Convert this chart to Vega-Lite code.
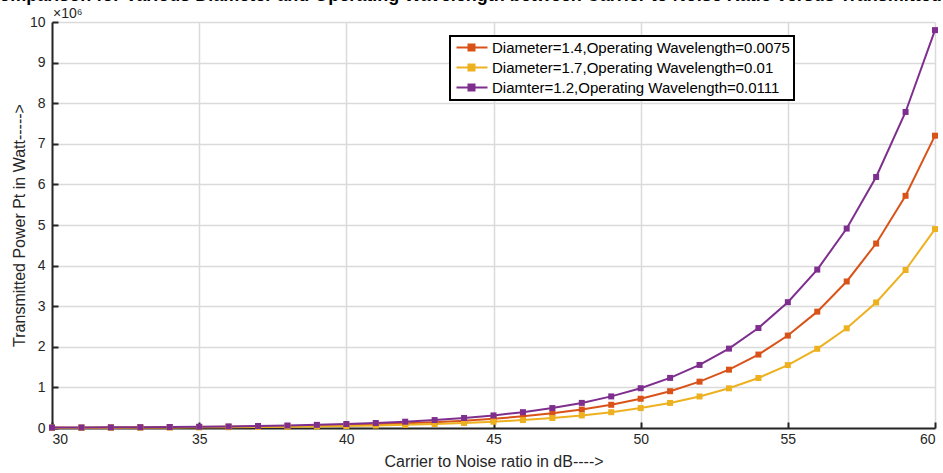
{
  "$schema": "https://vega.github.io/schema/vega-lite/v6.json",
  "autosize": "none",
  "width": 883,
  "height": 406,
  "padding": {"left": 52, "top": 22, "right": 8, "bottom": 45},
  "background": "white",
  "title": {
    "text": "Comparison for Various Diameter and Operating Wavelength between Carrier to Noise Ratio versus Transmitted Power",
    "font": "Liberation Sans",
    "fontSize": 18,
    "fontWeight": "bold",
    "color": "#000000",
    "anchor": "middle",
    "baseline": "alphabetic",
    "offset": -12,
    "limit": 0
  },
  "config": {
    "font": "Liberation Sans",
    "view": {"stroke": null},
    "axis": {
      "labelFont": "Liberation Sans",
      "titleFont": "Liberation Sans",
      "labelFontSize": 14,
      "titleFontSize": 16,
      "labelColor": "#262626",
      "titleColor": "#262626",
      "titleFontWeight": "normal",
      "domainColor": "#262626",
      "domainWidth": 2,
      "tickColor": "#262626",
      "tickWidth": 2,
      "tickSize": -6,
      "gridColor": "#dadada",
      "gridWidth": 1.5
    }
  },
  "layer": [
    {
      "data": {
        "values": [
          {"cnr": 30, "pt": 0.0072, "s": "Diameter=1.4,Operating Wavelength=0.0075"},
          {"cnr": 31, "pt": 0.009064, "s": "Diameter=1.4,Operating Wavelength=0.0075"},
          {"cnr": 32, "pt": 0.01141, "s": "Diameter=1.4,Operating Wavelength=0.0075"},
          {"cnr": 33, "pt": 0.01437, "s": "Diameter=1.4,Operating Wavelength=0.0075"},
          {"cnr": 34, "pt": 0.01809, "s": "Diameter=1.4,Operating Wavelength=0.0075"},
          {"cnr": 35, "pt": 0.02277, "s": "Diameter=1.4,Operating Wavelength=0.0075"},
          {"cnr": 36, "pt": 0.02866, "s": "Diameter=1.4,Operating Wavelength=0.0075"},
          {"cnr": 37, "pt": 0.03609, "s": "Diameter=1.4,Operating Wavelength=0.0075"},
          {"cnr": 38, "pt": 0.04543, "s": "Diameter=1.4,Operating Wavelength=0.0075"},
          {"cnr": 39, "pt": 0.05719, "s": "Diameter=1.4,Operating Wavelength=0.0075"},
          {"cnr": 40, "pt": 0.072, "s": "Diameter=1.4,Operating Wavelength=0.0075"},
          {"cnr": 41, "pt": 0.09064, "s": "Diameter=1.4,Operating Wavelength=0.0075"},
          {"cnr": 42, "pt": 0.1141, "s": "Diameter=1.4,Operating Wavelength=0.0075"},
          {"cnr": 43, "pt": 0.1437, "s": "Diameter=1.4,Operating Wavelength=0.0075"},
          {"cnr": 44, "pt": 0.1809, "s": "Diameter=1.4,Operating Wavelength=0.0075"},
          {"cnr": 45, "pt": 0.2277, "s": "Diameter=1.4,Operating Wavelength=0.0075"},
          {"cnr": 46, "pt": 0.2866, "s": "Diameter=1.4,Operating Wavelength=0.0075"},
          {"cnr": 47, "pt": 0.3609, "s": "Diameter=1.4,Operating Wavelength=0.0075"},
          {"cnr": 48, "pt": 0.4543, "s": "Diameter=1.4,Operating Wavelength=0.0075"},
          {"cnr": 49, "pt": 0.5719, "s": "Diameter=1.4,Operating Wavelength=0.0075"},
          {"cnr": 50, "pt": 0.72, "s": "Diameter=1.4,Operating Wavelength=0.0075"},
          {"cnr": 51, "pt": 0.9064, "s": "Diameter=1.4,Operating Wavelength=0.0075"},
          {"cnr": 52, "pt": 1.141, "s": "Diameter=1.4,Operating Wavelength=0.0075"},
          {"cnr": 53, "pt": 1.437, "s": "Diameter=1.4,Operating Wavelength=0.0075"},
          {"cnr": 54, "pt": 1.809, "s": "Diameter=1.4,Operating Wavelength=0.0075"},
          {"cnr": 55, "pt": 2.277, "s": "Diameter=1.4,Operating Wavelength=0.0075"},
          {"cnr": 56, "pt": 2.866, "s": "Diameter=1.4,Operating Wavelength=0.0075"},
          {"cnr": 57, "pt": 3.609, "s": "Diameter=1.4,Operating Wavelength=0.0075"},
          {"cnr": 58, "pt": 4.543, "s": "Diameter=1.4,Operating Wavelength=0.0075"},
          {"cnr": 59, "pt": 5.719, "s": "Diameter=1.4,Operating Wavelength=0.0075"},
          {"cnr": 60, "pt": 7.2, "s": "Diameter=1.4,Operating Wavelength=0.0075"},
          {"cnr": 30, "pt": 0.0049, "s": "Diameter=1.7,Operating Wavelength=0.01"},
          {"cnr": 31, "pt": 0.006169, "s": "Diameter=1.7,Operating Wavelength=0.01"},
          {"cnr": 32, "pt": 0.007766, "s": "Diameter=1.7,Operating Wavelength=0.01"},
          {"cnr": 33, "pt": 0.009777, "s": "Diameter=1.7,Operating Wavelength=0.01"},
          {"cnr": 34, "pt": 0.01231, "s": "Diameter=1.7,Operating Wavelength=0.01"},
          {"cnr": 35, "pt": 0.0155, "s": "Diameter=1.7,Operating Wavelength=0.01"},
          {"cnr": 36, "pt": 0.01951, "s": "Diameter=1.7,Operating Wavelength=0.01"},
          {"cnr": 37, "pt": 0.02456, "s": "Diameter=1.7,Operating Wavelength=0.01"},
          {"cnr": 38, "pt": 0.03092, "s": "Diameter=1.7,Operating Wavelength=0.01"},
          {"cnr": 39, "pt": 0.03892, "s": "Diameter=1.7,Operating Wavelength=0.01"},
          {"cnr": 40, "pt": 0.049, "s": "Diameter=1.7,Operating Wavelength=0.01"},
          {"cnr": 41, "pt": 0.06169, "s": "Diameter=1.7,Operating Wavelength=0.01"},
          {"cnr": 42, "pt": 0.07766, "s": "Diameter=1.7,Operating Wavelength=0.01"},
          {"cnr": 43, "pt": 0.09777, "s": "Diameter=1.7,Operating Wavelength=0.01"},
          {"cnr": 44, "pt": 0.1231, "s": "Diameter=1.7,Operating Wavelength=0.01"},
          {"cnr": 45, "pt": 0.155, "s": "Diameter=1.7,Operating Wavelength=0.01"},
          {"cnr": 46, "pt": 0.1951, "s": "Diameter=1.7,Operating Wavelength=0.01"},
          {"cnr": 47, "pt": 0.2456, "s": "Diameter=1.7,Operating Wavelength=0.01"},
          {"cnr": 48, "pt": 0.3092, "s": "Diameter=1.7,Operating Wavelength=0.01"},
          {"cnr": 49, "pt": 0.3892, "s": "Diameter=1.7,Operating Wavelength=0.01"},
          {"cnr": 50, "pt": 0.49, "s": "Diameter=1.7,Operating Wavelength=0.01"},
          {"cnr": 51, "pt": 0.6169, "s": "Diameter=1.7,Operating Wavelength=0.01"},
          {"cnr": 52, "pt": 0.7766, "s": "Diameter=1.7,Operating Wavelength=0.01"},
          {"cnr": 53, "pt": 0.9777, "s": "Diameter=1.7,Operating Wavelength=0.01"},
          {"cnr": 54, "pt": 1.231, "s": "Diameter=1.7,Operating Wavelength=0.01"},
          {"cnr": 55, "pt": 1.55, "s": "Diameter=1.7,Operating Wavelength=0.01"},
          {"cnr": 56, "pt": 1.951, "s": "Diameter=1.7,Operating Wavelength=0.01"},
          {"cnr": 57, "pt": 2.456, "s": "Diameter=1.7,Operating Wavelength=0.01"},
          {"cnr": 58, "pt": 3.092, "s": "Diameter=1.7,Operating Wavelength=0.01"},
          {"cnr": 59, "pt": 3.892, "s": "Diameter=1.7,Operating Wavelength=0.01"},
          {"cnr": 60, "pt": 4.9, "s": "Diameter=1.7,Operating Wavelength=0.01"},
          {"cnr": 30, "pt": 0.0098, "s": "Diamter=1.2,Operating Wavelength=0.0111"},
          {"cnr": 31, "pt": 0.01234, "s": "Diamter=1.2,Operating Wavelength=0.0111"},
          {"cnr": 32, "pt": 0.01553, "s": "Diamter=1.2,Operating Wavelength=0.0111"},
          {"cnr": 33, "pt": 0.01955, "s": "Diamter=1.2,Operating Wavelength=0.0111"},
          {"cnr": 34, "pt": 0.02462, "s": "Diamter=1.2,Operating Wavelength=0.0111"},
          {"cnr": 35, "pt": 0.03099, "s": "Diamter=1.2,Operating Wavelength=0.0111"},
          {"cnr": 36, "pt": 0.03901, "s": "Diamter=1.2,Operating Wavelength=0.0111"},
          {"cnr": 37, "pt": 0.04912, "s": "Diamter=1.2,Operating Wavelength=0.0111"},
          {"cnr": 38, "pt": 0.06183, "s": "Diamter=1.2,Operating Wavelength=0.0111"},
          {"cnr": 39, "pt": 0.07784, "s": "Diamter=1.2,Operating Wavelength=0.0111"},
          {"cnr": 40, "pt": 0.098, "s": "Diamter=1.2,Operating Wavelength=0.0111"},
          {"cnr": 41, "pt": 0.1234, "s": "Diamter=1.2,Operating Wavelength=0.0111"},
          {"cnr": 42, "pt": 0.1553, "s": "Diamter=1.2,Operating Wavelength=0.0111"},
          {"cnr": 43, "pt": 0.1955, "s": "Diamter=1.2,Operating Wavelength=0.0111"},
          {"cnr": 44, "pt": 0.2462, "s": "Diamter=1.2,Operating Wavelength=0.0111"},
          {"cnr": 45, "pt": 0.3099, "s": "Diamter=1.2,Operating Wavelength=0.0111"},
          {"cnr": 46, "pt": 0.3901, "s": "Diamter=1.2,Operating Wavelength=0.0111"},
          {"cnr": 47, "pt": 0.4912, "s": "Diamter=1.2,Operating Wavelength=0.0111"},
          {"cnr": 48, "pt": 0.6183, "s": "Diamter=1.2,Operating Wavelength=0.0111"},
          {"cnr": 49, "pt": 0.7784, "s": "Diamter=1.2,Operating Wavelength=0.0111"},
          {"cnr": 50, "pt": 0.98, "s": "Diamter=1.2,Operating Wavelength=0.0111"},
          {"cnr": 51, "pt": 1.234, "s": "Diamter=1.2,Operating Wavelength=0.0111"},
          {"cnr": 52, "pt": 1.553, "s": "Diamter=1.2,Operating Wavelength=0.0111"},
          {"cnr": 53, "pt": 1.955, "s": "Diamter=1.2,Operating Wavelength=0.0111"},
          {"cnr": 54, "pt": 2.462, "s": "Diamter=1.2,Operating Wavelength=0.0111"},
          {"cnr": 55, "pt": 3.099, "s": "Diamter=1.2,Operating Wavelength=0.0111"},
          {"cnr": 56, "pt": 3.901, "s": "Diamter=1.2,Operating Wavelength=0.0111"},
          {"cnr": 57, "pt": 4.912, "s": "Diamter=1.2,Operating Wavelength=0.0111"},
          {"cnr": 58, "pt": 6.183, "s": "Diamter=1.2,Operating Wavelength=0.0111"},
          {"cnr": 59, "pt": 7.784, "s": "Diamter=1.2,Operating Wavelength=0.0111"},
          {"cnr": 60, "pt": 9.8, "s": "Diamter=1.2,Operating Wavelength=0.0111"}
        ]
      },
      "mark": {
        "type": "line",
        "strokeWidth": 2,
        "point": {"shape": "square", "filled": true, "size": 36}
      },
      "encoding": {
        "x": {
          "field": "cnr",
          "type": "quantitative",
          "scale": {"domain": [30, 60], "nice": false, "zero": false},
          "axis": {
            "values": [30, 35, 40, 45, 50, 55, 60],
            "title": "Carrier to Noise  ratio in dB---->",
            "labelPadding": 10,
            "titlePadding": 7,
            "grid": true
          }
        },
        "y": {
          "field": "pt",
          "type": "quantitative",
          "scale": {"domain": [0, 10], "nice": false},
          "axis": {
            "values": [0, 1, 2, 3, 4, 5, 6, 7, 8, 9, 10],
            "title": "Transmitted Power Pt in Watt----->",
            "labelPadding": 13,
            "titlePadding": 2,
            "grid": true
          }
        },
        "color": {
          "field": "s",
          "type": "nominal",
          "scale": {
            "domain": [
              "Diameter=1.4,Operating Wavelength=0.0075",
              "Diameter=1.7,Operating Wavelength=0.01",
              "Diamter=1.2,Operating Wavelength=0.0111"
            ],
            "range": ["#D95319", "#EDB120", "#7E2F8E"]
          },
          "legend": {
            "title": null,
            "orient": "none",
            "legendX": 398,
            "legendY": 14,
            "direction": "vertical",
            "labelFont": "Liberation Sans",
            "labelFontSize": 15,
            "labelColor": "#000000",
            "labelLimit": 0,
            "symbolType": "M-1,0L5.2,0M1.4,-0.6L2.6,-0.6L2.6,0.6L1.4,0.6Z",
            "symbolSize": 100,
            "symbolStrokeWidth": 2,
            "labelOffset": 23,
            "rowPadding": 4,
            "padding": 4,
            "strokeColor": "#000000",
            "fillColor": "#ffffff",
            "encode": {
              "symbols": {
                "update": {
                  "fill": {"scale": "color", "field": "value"},
                  "fillOpacity": {"value": 1}
                }
              },
              "legend": {
                "update": {"strokeWidth": {"value": 2}}
              }
            }
          }
        }
      }
    },
    {
      "data": {"values": [{"cnr": 30, "pt": 10, "t": "×10⁶"}]},
      "mark": {
        "type": "text",
        "align": "left",
        "baseline": "bottom",
        "dx": 1,
        "dy": -1,
        "fontSize": 14,
        "font": "Liberation Sans",
        "color": "#262626"
      },
      "encoding": {
        "x": {"field": "cnr", "type": "quantitative"},
        "y": {"field": "pt", "type": "quantitative"},
        "text": {"field": "t"}
      }
    }
  ]
}
